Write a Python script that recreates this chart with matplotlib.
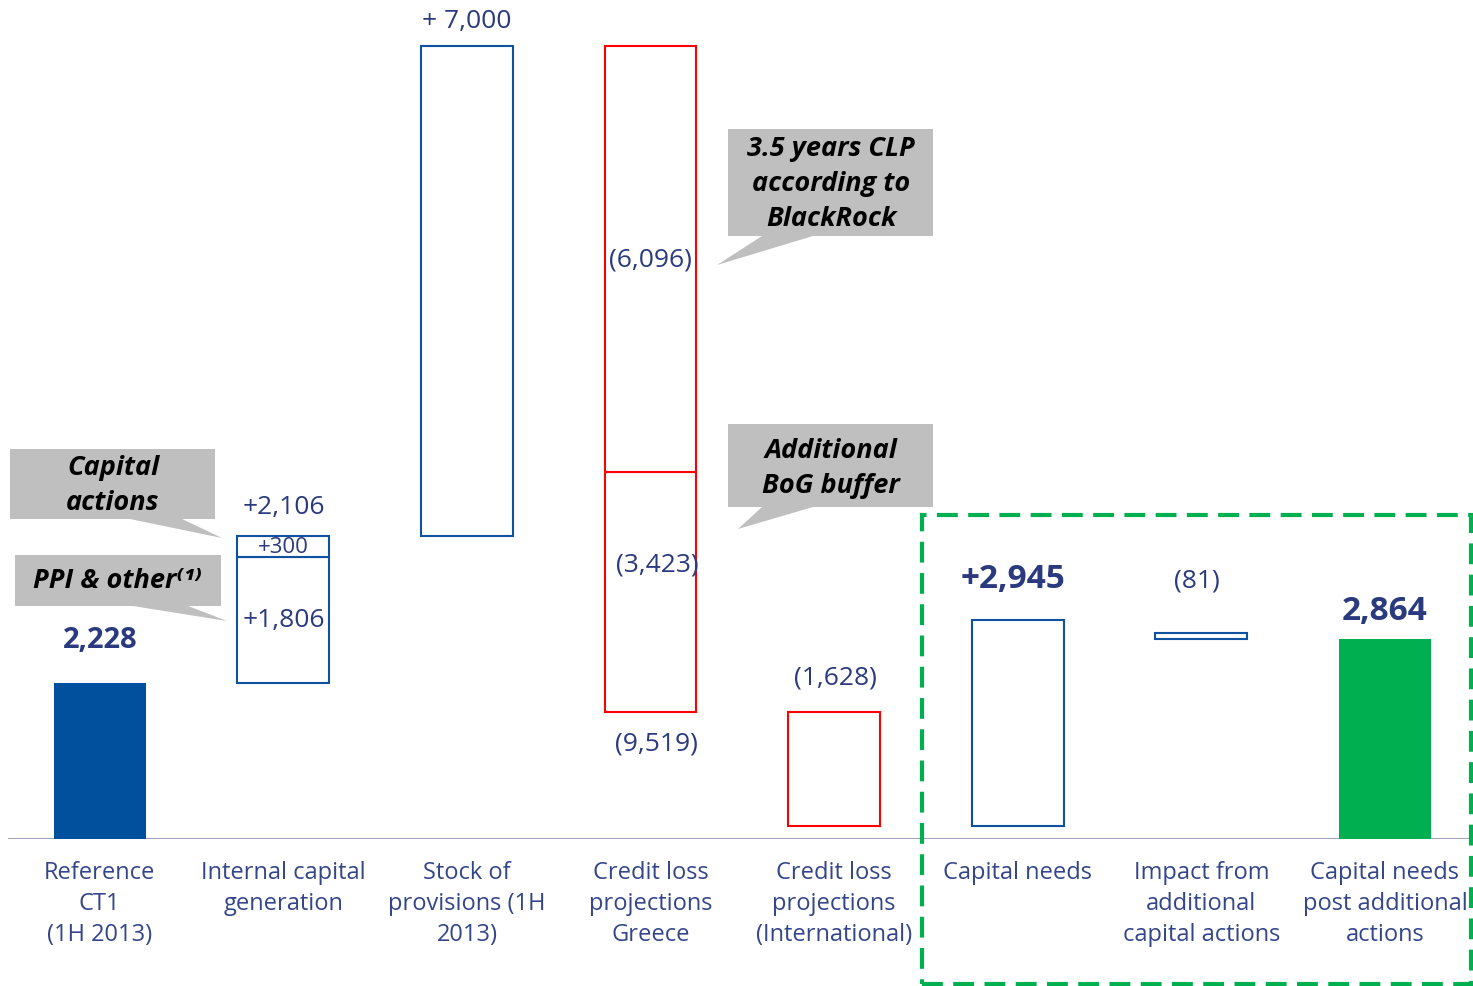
import matplotlib.pyplot as plt
from matplotlib.patches import Polygon, Rectangle

plt.rcParams['font.family'] = ['Open Sans', 'DejaVu Sans']

categories = ["Reference\nCT1\n(1H 2013)", "Internal capital\ngeneration",
              "Stock of\nprovisions (1H\n2013)", "Credit loss\nprojections\nGreece",
              "Credit loss\nprojections\n(International)", "Capital needs",
              "Impact from\nadditional\ncapital actions", "Capital needs\npost additional\nactions"]
reference_ct1 = 2228
ppi_other = 1806
capital_actions = 300
provisions = 7000
clp_blackrock = 6096
bog_buffer = 3423
clp_international = 1628
capital_needs = 2945
impact_actions = 81
post_actions = 2864

navy = '#2B3A7E'
blue = '#0F52A0'
red = '#FF0000'
green = '#00B050'
grey = '#BFBFBF'

W, H = 1473, 987
fig = plt.figure(figsize=(W / 100, H / 100), dpi=100)
ax = fig.add_axes([8 / W, 147 / H, 1465 / W, 840 / H])
ax.set_xlim(-0.5, 7.48)
ax.set_ylim(0, 12000)
for s in ax.spines.values():
    s.set_visible(False)
ax.set_yticks([])
ax.set_xticks(range(len(categories)))
ax.set_xticklabels(categories, fontsize=17, color='#34468A', linespacing=1.4)
ax.tick_params(axis='x', length=0, pad=15)
ax.axhline(0, color='#A3A3BE', lw=1.5, zorder=1)

bw = 0.5
hollow = dict(facecolor='white', lw=1.5, zorder=3)

# running totals for the waterfall
internal = ppi_other + capital_actions
greece = clp_blackrock + bog_buffer
top_internal = reference_ct1 + internal
top_prov = top_internal + provisions
after_greece = top_prov - greece
after_intl = after_greece - clp_international

ax.bar(0, reference_ct1, bw, color='#00509E', zorder=3)
ax.bar(1, ppi_other, bw, bottom=reference_ct1, edgecolor=blue, **hollow)
ax.bar(1, capital_actions, bw, bottom=reference_ct1 + ppi_other, edgecolor=blue, **hollow)
ax.bar(2, provisions, bw, bottom=top_internal, edgecolor=blue, **hollow)
ax.bar(3, bog_buffer, bw, bottom=after_greece, edgecolor=red, **hollow)
ax.bar(3, clp_blackrock, bw, bottom=after_greece + bog_buffer, edgecolor=red, **hollow)
ax.bar(4, clp_international, bw, bottom=after_intl, edgecolor=red, **hollow)
ax.bar(5, capital_needs, bw, bottom=after_intl, edgecolor=blue, **hollow)
ax.bar(6, impact_actions, bw, bottom=capital_needs - impact_actions, edgecolor=blue, **hollow)
ax.bar(7, post_actions, bw, color=green, zorder=3)


def label(x, y, s, dx=0, dy=0, bold=False, size=19):
    ax.annotate(s, (x, y), xytext=(dx, dy), textcoords='offset points',
                ha='center', va='center', fontsize=size, color=navy,
                fontweight='bold' if bold else 'normal', zorder=5)


label(0, reference_ct1, f"{reference_ct1:,}", dy=31, bold=True, size=21)
label(1, top_internal, f"+{internal:,}", dy=21)
label(1, reference_ct1 + ppi_other + capital_actions / 2, f"+{capital_actions:,}", size=16)
label(1, reference_ct1 + ppi_other / 2, f"+{ppi_other:,}")
label(2, top_prov, f"+ {provisions:,}", dy=18)
label(3, after_greece + bog_buffer + clp_blackrock / 2, f"({clp_blackrock:,})")
label(3, after_greece + bog_buffer / 2, f"({bog_buffer:,})", dx=5, dy=20)
label(3, after_greece, f"({greece:,})", dx=4, dy=-22)
label(4, after_greece, f"({clp_international:,})", dx=1, dy=25)
label(5, after_intl + capital_needs, f"+{capital_needs:,}", dx=-3, dy=29.5, bold=True, size=24)
label(6, capital_needs, f"({impact_actions})", dx=-3, dy=38)
label(7, post_actions, f"{post_actions:,}", dy=20, bold=True, size=24)


def px(pts):
    return [(x / W, 1 - y / H) for x, y in pts]


def callout(box, base, tip, lines, cx, ys):
    x0, y0, x1, y1 = box
    pts = [(x0, y0), (x1, y0), (x1, y1), (base[1], y1), tip, (base[0], y1), (x0, y1)]
    fig.patches.append(Polygon(px(pts), closed=True, facecolor=grey, edgecolor='none',
                               transform=fig.transFigure, zorder=4))
    for s, y in zip(lines, ys):
        fig.text(cx / W, 1 - y / H, s, ha='center', va='center', fontsize=19.5,
                 fontweight='bold', fontstyle='italic', color='black', zorder=6)


callout((10, 450, 215, 520), (130, 182), (222, 539), ["Capital", "actions"], 113, [468, 503])
callout((15, 556, 221, 607), (133, 188), (227, 622), ["PPI & other⁽¹⁾"], 118, [581])
callout((728, 130, 933, 237), (762, 813), (717, 266),
        ["3.5 years CLP", "according to", "BlackRock"], 831, [149, 184, 219])
callout((728, 425, 933, 508), (762, 813), (738, 530),
        ["Additional", "BoG buffer"], 831, [451, 486])

# dashed frame around the capital needs block
fig.patches.append(Rectangle((922 / W, 1 - 985 / H), (1471 - 922) / W, (985 - 516) / H,
                             fill=False, edgecolor=green, lw=3, linestyle=(0, (5, 2.5)),
                             transform=fig.transFigure, zorder=6))

fig.savefig('out.png', dpi=100)
